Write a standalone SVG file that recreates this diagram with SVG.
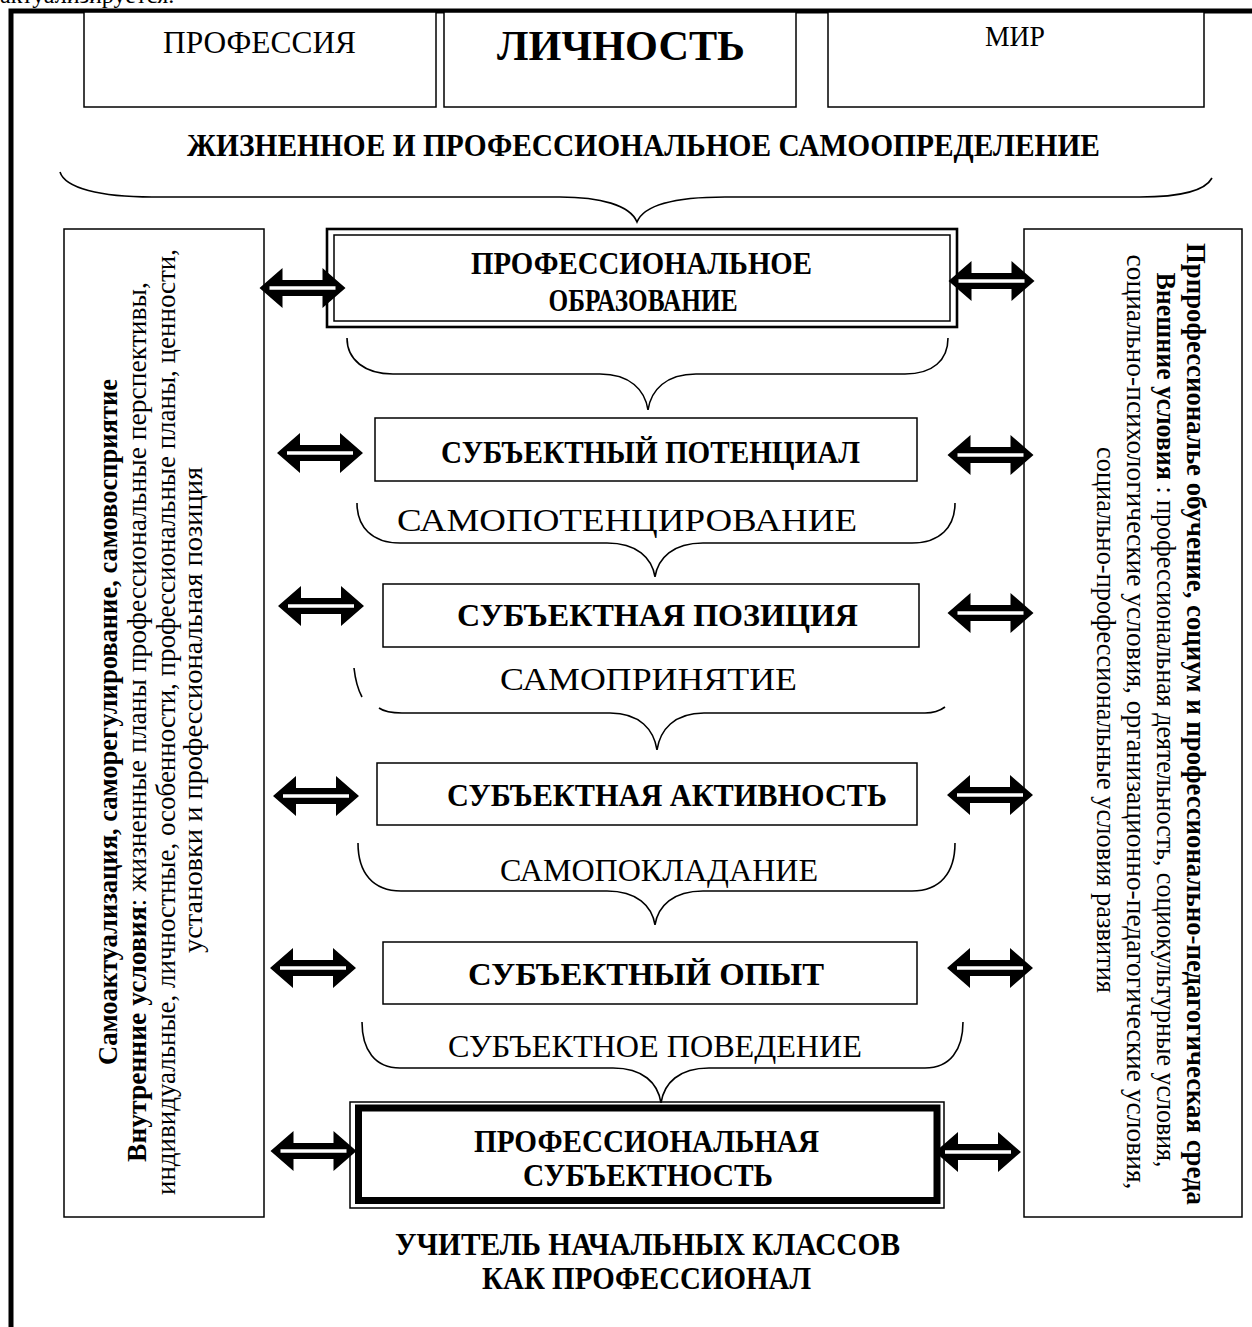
<svg xmlns="http://www.w3.org/2000/svg" xmlns:xlink="http://www.w3.org/1999/xlink" width="1252" height="1327" viewBox="0 0 1252 1327">
<style>
.t{font-family:"Liberation Serif","Times New Roman",serif;fill:#000}
.b{font-weight:bold}
.box{fill:#fff;stroke:#000;stroke-width:1.5}
.brace{fill:none;stroke:#000;stroke-width:1.6}
.frame{fill:none;stroke:#000;stroke-width:5}
</style>
<defs>
<g id="dbl"><polygon points="-43,0 -20,-20 -20,-8 20,-8 20,-20 43,0 20,20 20,8 -20,8 -20,20" fill="#000"/><line x1="-33" y1="0" x2="33" y2="0" stroke="#fff" stroke-width="3.5"/></g>
</defs>
<rect width="1252" height="1327" fill="#fff"/>
<text class="t" x="0" y="3" font-size="24">актуализируется.</text>
<g id="frame"><path class="frame" d="M11,1327 V11 H1252"/></g>

<g id="n-professiya"><rect class="box" x="84" y="12" width="352" height="95"/><text class="t" x="259.5" y="53" font-size="32" text-anchor="middle" textLength="193" lengthAdjust="spacingAndGlyphs">ПРОФЕССИЯ</text></g>
<g id="n-lichnost"><rect class="box" x="444" y="12" width="352" height="95"/><text class="t b" x="621" y="60" font-size="42" text-anchor="middle" textLength="248" lengthAdjust="spacingAndGlyphs">ЛИЧНОСТЬ</text></g>
<g id="n-mir"><rect class="box" x="828" y="12" width="376" height="95"/><text class="t" x="1015" y="46" font-size="29" text-anchor="middle" textLength="60" lengthAdjust="spacingAndGlyphs">МИР</text></g>

<g id="n-header"><text class="t b" x="643.5" y="156" font-size="31" text-anchor="middle" textLength="913" lengthAdjust="spacingAndGlyphs">ЖИЗНЕННОЕ И ПРОФЕССИОНАЛЬНОЕ САМООПРЕДЕЛЕНИЕ</text></g>

<g id="n-left">
<rect class="box" x="64" y="229" width="200" height="988"/>
<g class="t" font-size="27" text-anchor="middle">
<text class="b" transform="translate(117,722) rotate(-90)" textLength="686" lengthAdjust="spacingAndGlyphs">Самоактуализация, саморегулирование, самовосприятие</text>
<text transform="translate(146,722) rotate(-90)" textLength="880" lengthAdjust="spacingAndGlyphs"><tspan font-weight="bold">Внутренние условия</tspan>: жизненные планы профессиональные перспективы,</text>
<text transform="translate(175,722) rotate(-90)" textLength="946" lengthAdjust="spacingAndGlyphs">индивидуальные, личностные, особенности, профессиональные планы, ценности,</text>
<text transform="translate(202,710) rotate(-90)" textLength="486" lengthAdjust="spacingAndGlyphs">установки  и профессиональная позиция</text>
</g>
</g>

<g id="n-right">
<rect class="box" x="1024" y="229" width="218" height="988"/>
<g class="t" font-size="27" text-anchor="middle">
<text class="b" transform="translate(1187,724) rotate(90)" textLength="962" lengthAdjust="spacingAndGlyphs">Прпрофессиональе обучение, социум и профессионально-педагогическая среда</text>
<text transform="translate(1157,720) rotate(90)" textLength="895" lengthAdjust="spacingAndGlyphs"><tspan font-weight="bold">Внешние условия</tspan> : профессиональная деятельность, социокультурные условия,</text>
<text transform="translate(1127,722) rotate(90)" textLength="935" lengthAdjust="spacingAndGlyphs">социально-психологические условия, организационно-педагогические условия,</text>
<text transform="translate(1097,720) rotate(90)" textLength="546" lengthAdjust="spacingAndGlyphs">социально-профессиональные условия развития</text>
</g>
</g>

<g id="n-obrazovanie">
<rect x="327" y="229" width="630" height="98" fill="#fff" stroke="#000" stroke-width="2.6"/>
<rect x="334" y="235" width="616" height="86" fill="none" stroke="#000" stroke-width="1.5"/>
<text class="t b" x="641.5" y="274" font-size="31" text-anchor="middle" textLength="341" lengthAdjust="spacingAndGlyphs">ПРОФЕССИОНАЛЬНОЕ</text>
<text class="t b" x="643" y="311" font-size="31" text-anchor="middle" textLength="189" lengthAdjust="spacingAndGlyphs">ОБРАЗОВАНИЕ</text>
</g>
<g id="n-potencial"><rect class="box" x="375" y="418" width="542" height="63"/><text class="t b" x="650.5" y="463" font-size="31" text-anchor="middle" textLength="419" lengthAdjust="spacingAndGlyphs">СУБЪЕКТНЫЙ ПОТЕНЦИАЛ</text></g>
<g id="n-poziciya"><rect class="box" x="383" y="584" width="536" height="63"/><text class="t b" x="657.5" y="626" font-size="31" text-anchor="middle" textLength="401" lengthAdjust="spacingAndGlyphs">СУБЪЕКТНАЯ ПОЗИЦИЯ</text></g>
<g id="n-aktivnost"><rect class="box" x="377" y="763" width="540" height="62"/><text class="t b" x="667" y="806" font-size="31" text-anchor="middle" textLength="440" lengthAdjust="spacingAndGlyphs">СУБЪЕКТНАЯ АКТИВНОСТЬ</text></g>
<g id="n-opyt"><rect class="box" x="383" y="942" width="534" height="62"/><text class="t b" x="646" y="985" font-size="31" text-anchor="middle" textLength="356" lengthAdjust="spacingAndGlyphs">СУБЪЕКТНЫЙ ОПЫТ</text></g>
<g id="n-subektnost">
<rect class="box" x="350" y="1102" width="594" height="106"/>
<rect x="358.5" y="1108" width="578.5" height="92.5" fill="none" stroke="#000" stroke-width="7"/>
<text class="t b" x="646.5" y="1152" font-size="31" text-anchor="middle" textLength="345" lengthAdjust="spacingAndGlyphs">ПРОФЕССИОНАЛЬНАЯ</text>
<text class="t b" x="648" y="1186" font-size="31" text-anchor="middle" textLength="250" lengthAdjust="spacingAndGlyphs">СУБЪЕКТНОСТЬ</text>
</g>
<g id="n-uchitel">
<text class="t b" x="647.5" y="1255" font-size="31" text-anchor="middle" textLength="505" lengthAdjust="spacingAndGlyphs">УЧИТЕЛЬ НАЧАЛЬНЫХ КЛАССОВ</text>
<text class="t b" x="646.5" y="1289" font-size="31" text-anchor="middle" textLength="329" lengthAdjust="spacingAndGlyphs">КАК ПРОФЕССИОНАЛ</text>
</g>

<g id="brace-labels" class="t" font-size="31" text-anchor="middle">
<text x="627" y="531" textLength="460" lengthAdjust="spacingAndGlyphs">САМОПОТЕНЦИРОВАНИЕ</text>
<text x="648.5" y="690" textLength="297" lengthAdjust="spacingAndGlyphs">САМОПРИНЯТИЕ</text>
<text x="659" y="881" textLength="318" lengthAdjust="spacingAndGlyphs">САМОПОКЛАДАНИЕ</text>
<text x="655" y="1057" textLength="414" lengthAdjust="spacingAndGlyphs">СУБЪЕКТНОЕ ПОВЕДЕНИЕ</text>
</g>

<g id="connectors">
<path class="brace" d="M60,172 C65,188 100,197 152,197 L560,197 C600,197 630,205 637,222 C644,205 675,197 725,197 L1140,197 C1180,197 1205,191 1212,178"/>
<path class="brace" d="M347,338 C347,360 365,374 393,374 L600,374 C630,374 645,390 648,410 C651,390 666,374 696,374 L905,374 C933,374 948,360 948,338"/>
<path class="brace" d="M357,503 C357,527 372,543 400,543 L607,543 C637,543 652,558 655,577 C658,558 673,543 703,543 L912,543 C940,543 955,527 955,503"/>
<path class="brace" d="M354,668 Q356,686 362,697"/>
<path class="brace" d="M379,708 Q386,713 402,713 L610,713 C640,713 654,730 657,750 C660,730 674,713 704,713 L925,713 Q937,713 945,707"/>
<path class="brace" d="M358,843 C358,873 373,891 401,891 L607,891 C637,891 652,906 655,925 C658,906 673,891 703,891 L912,891 C940,891 955,873 955,843"/>
<path class="brace" d="M362,1022 C362,1050 375,1068 400,1068 L613,1068 C643,1068 658,1083 661,1103 C664,1083 679,1068 709,1068 L925,1068 C950,1068 963,1050 963,1022"/>
<use xlink:href="#dbl" x="302.5" y="288"/>
<use xlink:href="#dbl" x="991.5" y="281"/>
<use xlink:href="#dbl" x="320" y="453"/>
<use xlink:href="#dbl" x="990.5" y="455"/>
<use xlink:href="#dbl" x="321" y="606"/>
<use xlink:href="#dbl" x="990.5" y="613"/>
<use xlink:href="#dbl" x="316" y="796"/>
<use xlink:href="#dbl" x="990" y="795"/>
<use xlink:href="#dbl" x="313" y="968"/>
<use xlink:href="#dbl" x="990" y="968"/>
<use xlink:href="#dbl" x="313.5" y="1151"/>
<use xlink:href="#dbl" x="978" y="1152"/>
</g>
</svg>
